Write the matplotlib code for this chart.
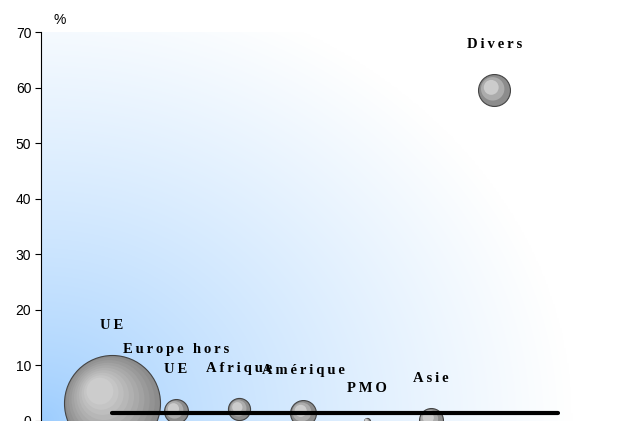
import numpy as np
import matplotlib
matplotlib.use("Agg")
import matplotlib.pyplot as plt
from matplotlib.transforms import ScaledTranslation

# ---- data ----
regions = ["UE", "Europe hors\nUE", "Afrique", "Amérique", "PMO", "Asie", "Divers"]
valeurs = [3.2, 1.8, 2.1, 1.4, 0.0, 0.2, 59.5]
poids = [66.0, 4.1, 3.5, 4.8, 0.26, 4.1, 7.3]
moyenne = 1.4
yticks = [0, 10, 20, 30, 40, 50, 60, 70]

W, H, DPI = 620, 421, 100
fig = plt.figure(figsize=(W / DPI, H / DPI), dpi=DPI)
fig.patch.set_facecolor("white")
ax = fig.add_axes([41 / W, 0.0, (600 - 41) / W, (421 - 32) / H])

x = np.arange(1, len(regions) + 1)
xmin = 1 - (112 - 41) / 63.7
xmax = 1 + (600 - 112) / 63.7
ax.set_xlim(xmin, xmax)
ax.set_ylim(0, 70)

# background gradient (blue bottom-left -> white top-right)
nu, nv = 400, 300
u = np.linspace(0, 1, nu)
v = np.linspace(0, 1, nv)
U, V = np.meshgrid(u, v)
d = np.sqrt((U / 0.95) ** 2 + (V / 1.15) ** 2)
t = np.clip(d, 0, 1) ** 0.75
blue = np.array([155, 204, 254]) / 255.0
white = np.array([1.0, 1.0, 1.0])
img = blue[None, None, :] * (1 - t[..., None]) + white[None, None, :] * t[..., None]
ax.imshow(img, extent=[0, 1, 0, 1], transform=ax.transAxes, origin="lower",
          aspect="auto", zorder=0, interpolation="bilinear")

# bubbles with radial shading
for xi, yi, p in zip(x, valeurs, poids):
    r_px = 48 * np.sqrt(p / 66.0)
    r_pt = r_px * 72 / DPI
    nlay = 10 if r_px > 20 else 3
    for k in range(nlay):
        frac = 1 - 0.8 * k / nlay
        rk = r_pt * frac
        shift = (r_pt - rk) * 0.35
        tr = ax.transData + ScaledTranslation(-shift / 72, shift / 72, fig.dpi_scale_trans)
        g = 0.55 + 0.25 * k / max(nlay - 1, 1)
        ax.scatter([xi], [yi], s=(2 * rk) ** 2, color=(g, g, g),
                   edgecolors="#444444" if k == 0 else "none",
                   linewidths=0.8, transform=tr, zorder=3, clip_on=False)

# average line
ax.plot([x[0], x[-1] + 1], [moyenne, moyenne], color="black", lw=3, zorder=4,
        solid_capstyle="round")


def spaced(s):
    return "\n".join("\u2009".join(line) for line in s.split("\n"))


# labels
for xi, yi, p, lab in zip(x, valeurs, poids, regions):
    r_px = 48 * np.sqrt(p / 66.0)
    off = (r_px + 23) * 72 / DPI
    ax.annotate(spaced(lab), (xi, yi), xytext=(0, off), textcoords="offset points",
                ha="center", va="bottom", fontsize=10.5, fontweight="bold",
                family="Liberation Serif", linespacing=1.7, zorder=5,
                annotation_clip=False)

# axes styling
for s in ["top", "right", "bottom"]:
    ax.spines[s].set_visible(False)
ax.spines["left"].set_color("black")
ax.spines["left"].set_linewidth(0.8)
ax.set_xticks([])
ax.set_yticks(yticks)
ax.set_yticklabels([str(v) for v in yticks], family="Liberation Sans", fontsize=10)
ax.tick_params(axis="y", length=4, width=0.8, pad=3)
fig.text(60 / W, 1 - 20 / H, "%", family="Liberation Sans", fontsize=10,
         ha="center", va="center")

fig.savefig("out.png", dpi=DPI)
